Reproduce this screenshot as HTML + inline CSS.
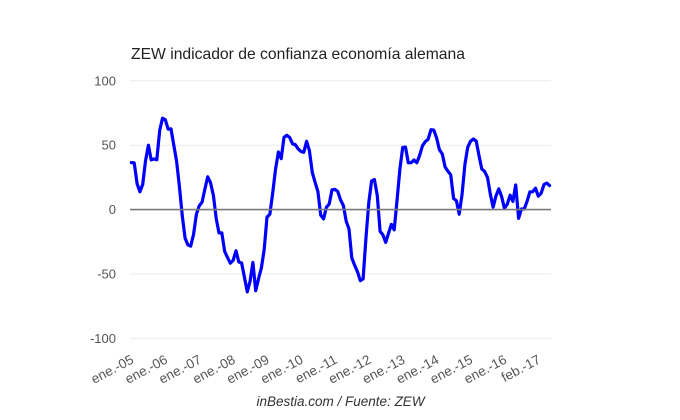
<!DOCTYPE html>
<html>
<head>
<meta charset="utf-8">
<style>
  html, body { margin: 0; padding: 0; background: #ffffff; }
  svg { display: block; }
  text { font-family: "Liberation Sans", Arial, sans-serif; }
</style>
</head>
<body>
<svg width="680" height="420" viewBox="0 0 680 420" xmlns="http://www.w3.org/2000/svg">
  <rect x="0" y="0" width="680" height="420" fill="#ffffff"/>

  <!-- Title -->
  <text x="131" y="59" font-size="15.7" fill="#222222">ZEW indicador de confianza economía alemana</text>

  <!-- Gridlines -->
  <g stroke="#ebebeb" stroke-width="1">
    <line x1="130" y1="80.8" x2="551" y2="80.8"/>
    <line x1="130" y1="145.2" x2="551" y2="145.2"/>
    <line x1="130" y1="274.0" x2="551" y2="274.0"/>
    <line x1="130" y1="338.4" x2="551" y2="338.4"/>
  </g>

  <!-- Y axis labels -->
  <g font-size="13" fill="#555555" text-anchor="end">
    <text x="116" y="85.3">100</text>
    <text x="116" y="149.7">50</text>
    <text x="116" y="214.1">0</text>
    <text x="116" y="278.5">-50</text>
    <text x="116" y="342.9">-100</text>
  </g>

  <!-- Series -->
  <polyline fill="none" stroke="#0000ff" stroke-width="3.2" stroke-linejoin="round" stroke-linecap="round"
    points="131.4,162.6 134.2,162.8 137.1,183.7 139.9,191.7 142.7,184.5 145.5,160.9 148.4,145.2 151.2,159.9 154.0,159.0 156.8,159.8
159.7,130.3 162.5,118.2 165.3,119.7 168.1,129.1 171.0,128.8 173.8,145.2 176.6,161.3 179.4,186.4 182.3,216.0 185.1,238.2
187.9,244.9 190.7,246.1 193.6,234.1 196.4,214.2 199.2,205.9 202.1,202.1 204.9,189.0 207.7,176.8 210.5,182.6 213.4,195.4
216.2,218.5 219.0,232.9 221.8,232.9 224.7,251.5 227.5,257.5 230.3,263.2 233.1,260.5 236.0,250.8 238.8,262.0 241.6,262.9
244.4,277.1 247.3,291.9 250.1,281.1 252.9,262.5 255.7,290.7 258.6,278.5 261.4,267.8 264.2,249.5 267.0,217.1 269.9,214.1
272.7,192.9 275.5,169.5 278.4,151.9 281.2,158.7 284.0,137.3 286.8,135.3 289.7,137.5 292.5,143.8 295.3,144.7 298.1,148.8
301.0,151.5 303.8,152.3 306.6,141.3 309.4,150.6 312.3,172.6 315.1,182.3 317.9,191.6 320.7,215.1 323.6,218.9 326.4,207.3
329.2,204.1 332.0,189.8 334.9,189.4 337.7,191.4 340.5,199.8 343.4,205.6 346.2,221.2 349.0,229.0 351.8,258.0 354.7,265.4
357.5,271.8 360.3,280.7 363.1,278.9 366.0,237.4 368.8,202.6 371.6,180.9 374.4,179.5 377.3,195.7 380.1,231.4 382.9,234.8
385.7,242.4 388.6,233.0 391.4,224.4 394.2,229.8 397.0,200.7 399.9,169.0 402.7,147.5 405.5,147.1 408.3,162.8 411.2,162.7
414.0,160.0 416.8,162.8 419.6,155.5 422.5,145.7 425.3,141.6 428.1,139.3 431.0,129.7 433.8,130.1 436.6,137.9 439.4,149.6
442.3,154.0 445.1,167.0 447.9,171.2 450.7,174.7 453.6,198.5 456.4,200.7 459.2,214.2 462.0,194.8 464.9,164.6 467.7,147.3
470.5,141.3 473.3,139.0 476.2,141.0 479.0,155.6 481.8,169.0 484.6,171.4 487.5,177.4 490.3,194.0 493.1,207.2 495.9,196.2
498.8,188.9 501.6,196.5 504.4,208.3 507.3,204.1 510.1,195.2 512.9,201.4 515.7,184.9 518.6,218.4 521.4,209.0 524.2,209.0
527.0,201.6 529.9,191.8 532.7,191.8 535.5,188.2 538.3,196.2 541.2,193.1 544.0,184.5 546.8,183.1 549.6,185.6"/>

  <!-- Zero baseline -->
  <line x1="130" y1="209.6" x2="551" y2="209.6" stroke="#7a7a7a" stroke-width="1.6"/>

  <!-- X axis labels (slanted) -->
  <g font-size="13.5" fill="#555555" text-anchor="end">
    <text transform="translate(134.6,362.5) rotate(-28)">ene.-05</text>
    <text transform="translate(168.5,362.5) rotate(-28)">ene.-06</text>
    <text transform="translate(202.4,362.5) rotate(-28)">ene.-07</text>
    <text transform="translate(236.3,362.5) rotate(-28)">ene.-08</text>
    <text transform="translate(270.2,362.5) rotate(-28)">ene.-09</text>
    <text transform="translate(304.2,362.5) rotate(-28)">ene.-10</text>
    <text transform="translate(338.1,362.5) rotate(-28)">ene.-11</text>
    <text transform="translate(372.0,362.5) rotate(-28)">ene.-12</text>
    <text transform="translate(405.9,362.5) rotate(-28)">ene.-13</text>
    <text transform="translate(439.8,362.5) rotate(-28)">ene.-14</text>
    <text transform="translate(473.7,362.5) rotate(-28)">ene.-15</text>
    <text transform="translate(507.6,362.5) rotate(-28)">ene.-16</text>
    <text transform="translate(541.5,362.5) rotate(-28)">feb.-17</text>
  </g>

  <!-- Footer -->
  <text x="256.5" y="406" font-size="13.5" font-style="italic" fill="#333333">inBestia.com / Fuente: ZEW</text>
</svg>
</body>
</html>
